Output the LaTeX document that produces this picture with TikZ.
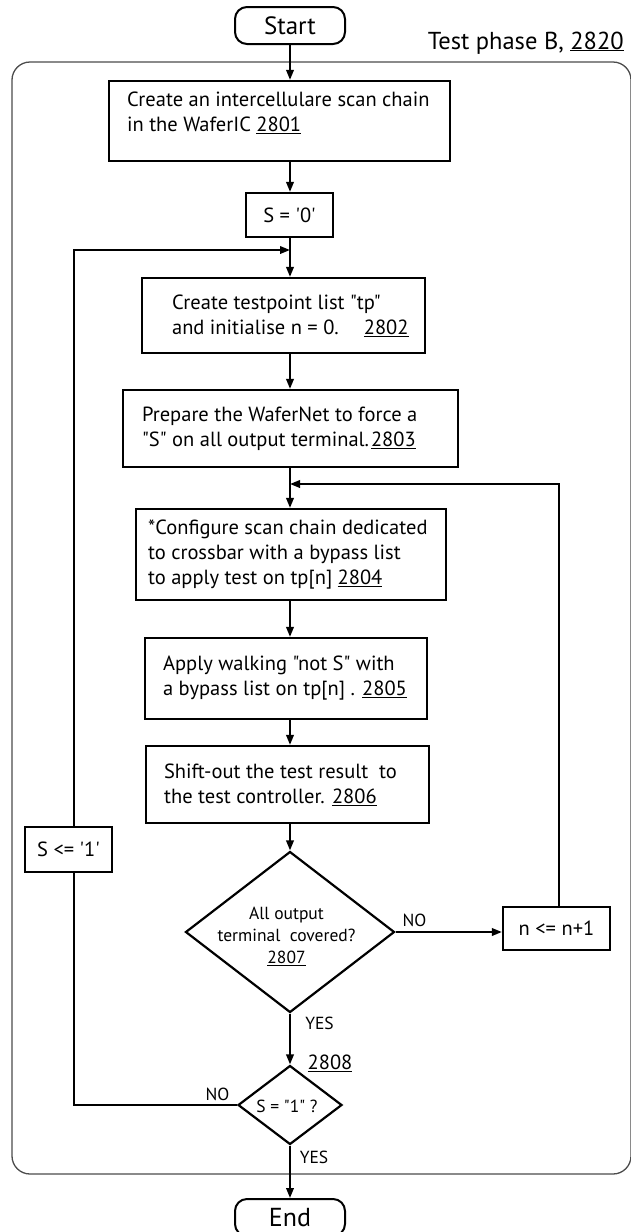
\documentclass[tikz,border=0pt]{standalone}
\usepackage{fontspec}
\setmainfont[Ligatures=TeXOff]{PT Sans}
\usetikzlibrary{arrows.meta,shapes.geometric}
\newcommand{\fb}{\fontsize{20.5}{25}\selectfont}
\newcommand{\fd}{\fontsize{17.5}{22}\selectfont}
\newcommand{\fl}{\fontsize{17.5}{18}\selectfont}
\newcommand{\un}[1]{\underline{#1}}
\begin{document}
\begin{tikzpicture}[x=1pt,y=-1pt,
  box/.style={draw, line width=2.2pt, inner sep=0pt},
  txt/.style={inner sep=0pt, align=left, font=\fb},
  arr/.style={line width=2pt, -{Triangle[length=10pt,width=7.5pt]}},
  ln/.style={line width=2pt},
  term/.style={draw, line width=2pt, rounded corners=12pt, minimum width=110pt, minimum height=37pt, inner sep=0pt},
  dia/.style={draw, diamond, line width=2.2pt, inner sep=0pt},
  lab/.style={inner sep=0pt, font=\fl}]
\useasboundingbox (0,0) rectangle (631,1232);
\node[draw=black!70, line width=1.3pt, rounded corners=18pt, minimum width=619pt, minimum height=1112pt, inner sep=0pt] (frame) at (321.5,618) {};
\node[term, font=\fontsize{25}{25}\selectfont] (start) at (290,25.5) {Start};
\node[lab, anchor=base east, font=\fontsize{24.5}{24.5}\selectfont] (phase) at (624,49) {Test phase B, \un{2820}};
% boxes
\node[box, minimum width=341pt, minimum height=80pt] (b1) at (279.5,121) {};
\node[txt, anchor=west] (t1) at ([xshift=19pt,yshift=8.5pt]b1.west) {Create an intercellulare scan chain\\in the WaferIC \un{2801}};
\node[box, minimum width=87pt, minimum height=44pt, font=\fb] (s0) at (289.5,215) {S = '0'};
\node[box, minimum width=283pt, minimum height=75pt] (b2) at (283.5,315.5) {};
\node[txt, anchor=west] (t2) at ([xshift=31pt]b2.west) {Create testpoint list "tp"\\and initialise n = 0.\hspace{25pt}\un{2802}};
\node[box, minimum width=335pt, minimum height=77pt] (b3) at (290.5,428.5) {};
\node[txt, anchor=west] (t3) at ([xshift=20pt]b3.west) {Prepare the WaferNet to force a\\"S" on all output terminal.\kern2pt\un{2803}};
\node[box, minimum width=310pt, minimum height=91pt] (b4) at (291,554.5) {};
\node[txt, anchor=west] (t4) at ([xshift=13pt]b4.west) {*Configure scan chain dedicated\\to crossbar with a bypass list\\to apply test on tp[n] \un{2804}};
\node[box, minimum width=282pt, minimum height=81pt] (b5) at (286,678.5) {};
\node[txt, anchor=west] (t5) at ([xshift=19pt]b5.west) {Apply walking "not S" with\\a bypass list on tp[n] . \un{2805}};
\node[box, minimum width=283pt, minimum height=77pt] (b6) at (287.5,784.5) {};
\node[txt, anchor=west] (t6) at ([xshift=19pt]b6.west) {Shift-out the test result\ \ to\\the test controller. \un{2806}};
% decisions
\node[dia, minimum width=209pt, minimum height=161pt] (d1) at (290,932) {};
\node[inner sep=0pt, align=center, font=\fd] (t7) at (286.5,936) {All output\\terminal\ \ covered?\\\un{2807}};
\node[box, minimum width=107pt, minimum height=43pt, font=\fb] (nb) at (556.5,928.5) {n <= n+1};
\node[box, minimum width=87pt, minimum height=45pt, font=\fb] (sl) at (68.5,849.5) {S <= '1'};
\node[dia, minimum width=104pt, minimum height=79pt] (d2) at (290,1105) {};
\node[inner sep=0pt, font=\fd] (t8) at (287,1106) {S = "1" ?};
\node[term, font=\fontsize{26}{26}\selectfont] (end) at (290,1217.5) {End};
% labels
\node[lab] (no1) at (414.5,920) {NO};
\node[lab] (yes1) at (319.5,1023) {YES};
\node[lab, font=\fb] (n2808) at (330,1063) {\un{2808}};
\node[lab] (no2) at (217.5,1094) {NO};
\node[lab] (yes2) at (314,1157) {YES};
% connectors
\coordinate (col) at (290,0);
\coordinate (lx) at (74,0);
\coordinate (rx) at (559,0);
\coordinate (j1) at (290,250);
\coordinate (j2) at (290,484);
\draw[arr] (start.south -| col) -- (b1.north -| col);
\draw[arr] (b1.south -| col) -- (s0.north -| col);
\draw[arr] (s0.south -| col) -- (b2.north -| col);
\draw[arr] (sl.north -| lx) |- (j1);
\draw[arr] (b2.south -| col) -- (b3.north -| col);
\draw[arr] (b3.south -| col) -- (b4.north -| col);
\draw[arr] (nb.north -| rx) |- (j2);
\draw[arr] (b4.south -| col) -- (b5.north -| col);
\draw[arr] (b5.south -| col) -- (b6.north -| col);
\draw[arr] (b6.south -| col) -- (d1.north);
\draw[arr] (d1.east) -- (d1.east -| nb.west);
\draw[arr] (d1.south) -- (d2.north);
\draw[ln] (d2.west) -| (sl.south -| lx);
\draw[arr] (d2.south) -- (end.north);
\end{tikzpicture}
\end{document}
